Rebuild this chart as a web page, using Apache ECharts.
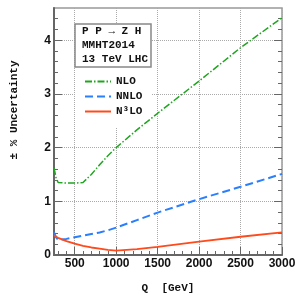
<!DOCTYPE html>
<html><head><meta charset="utf-8">
<script src="https://cdn.jsdelivr.net/npm/echarts@6/dist/echarts.min.js"></script>
<style>html,body{margin:0;padding:0;background:#fff}#c{width:300px;height:300px}</style>
</head><body><div id="c"></div>
<script>
const qValues = [250, 275, 300, 400, 500, 600, 700, 800, 900, 1000, 1250, 1500, 2000, 2500, 3000];
const nloValues = [1.62, 1.44, 1.35, 1.34, 1.34, 1.35, 1.50, 1.68, 1.85, 2.00, 2.33, 2.64, 3.24, 3.86, 4.42];
const nnloValues = [0.42, 0.33, 0.28, 0.30, 0.33, 0.36, 0.39, 0.42, 0.46, 0.51, 0.65, 0.79, 1.04, 1.27, 1.51];
const n3loValues = [0.37, 0.34, 0.32, 0.26, 0.21, 0.17, 0.14, 0.12, 0.095, 0.08, 0.11, 0.15, 0.25, 0.34, 0.42];
const seriesNames = ['NLO', 'NNLO', 'N³LO'];
const xMajorTicks = [500, 1000, 1500, 2000, 2500, 3000];
const xMinorTicks = [300, 400, 600, 700, 800, 900, 1100, 1200, 1300, 1400, 1600, 1700, 1800, 1900, 2100, 2200, 2300, 2400, 2600, 2700, 2800, 2900];
const yMajorTicks = [0, 1, 2, 3, 4];
const yMinorTicks = [0.2, 0.4, 0.6, 0.8, 1.2, 1.4, 1.6, 1.8, 2.2, 2.4, 2.6, 2.8, 3.2, 3.4, 3.6, 3.8, 4.2, 4.4];
const boxLines = ['P P \u2192 Z H', 'MMHT2014', '13 TeV LHC'];

const pairs = vals => qValues.map((q, i) => [q, vals[i]]);
const mono = '"Liberation Mono", "DejaVu Sans Mono", monospace';
const sans = '"Liberation Sans", Arial, sans-serif';
const axisCol = '#666';

const chart = echarts.init(document.getElementById('c'), null, {renderer: 'canvas'});
const xBase = {type: 'value', min: 250, max: 3000, gridIndex: 0};
const yBase = {type: 'value', min: 0, max: 4.6, gridIndex: 0};
chart.setOption({
  animation: false,
  grid: {left: 54, right: 18, top: 8, bottom: 45, show: true, borderColor: '#999', borderWidth: 1.5, backgroundColor: 'transparent'},
  xAxis: [
    Object.assign({}, xBase, {
      position: 'bottom',
      name: 'Q  [GeV]', nameLocation: 'middle', nameGap: 28,
      nameTextStyle: {fontFamily: mono, fontWeight: 'bold', fontSize: 11, color: '#111'},
      axisLine: {show: true, onZero: false, lineStyle: {color: axisCol, width: 2}},
      axisTick: {show: true, inside: true, length: 8, customValues: xMajorTicks, lineStyle: {color: axisCol, width: 1}},
      axisLabel: {customValues: xMajorTicks, margin: 3, fontFamily: sans, fontWeight: 'bold', fontSize: 12, color: '#111', formatter: v => String(v)},
      splitLine: {show: true, lineStyle: {color: '#aaa', type: [1, 1], width: 1}},
      minorTick: {show: false}
    }),
    Object.assign({}, xBase, {
      position: 'bottom',
      axisLine: {show: false, onZero: false},
      axisTick: {show: true, inside: true, length: 4, customValues: xMinorTicks, lineStyle: {color: axisCol, width: 1}},
      axisLabel: {show: false},
      splitLine: {show: false}
    })
  ],
  yAxis: [
    Object.assign({}, yBase, {
      position: 'left', interval: 1,
      axisLine: {show: true, onZero: false, lineStyle: {color: axisCol, width: 2}},
      axisTick: {show: true, inside: true, length: 8, customValues: yMajorTicks, lineStyle: {color: axisCol, width: 1}},
      axisLabel: {customValues: yMajorTicks, margin: 3, fontFamily: sans, fontWeight: 'bold', fontSize: 12, color: '#111', formatter: v => String(v)},
      splitLine: {show: true, lineStyle: {color: '#aaa', type: [1, 1], width: 1}}
    }),
    Object.assign({}, yBase, {
      position: 'left',
      axisLine: {show: false, onZero: false},
      axisTick: {show: true, inside: true, length: 4, customValues: yMinorTicks, lineStyle: {color: axisCol, width: 1}},
      axisLabel: {show: false}, splitLine: {show: false}
    }),
    Object.assign({}, yBase, {
      position: 'right',
      axisLine: {show: false, onZero: false},
      axisTick: {show: true, inside: true, length: 8, customValues: yMajorTicks, lineStyle: {color: axisCol, width: 1}},
      axisLabel: {show: false}, splitLine: {show: false}
    }),
    Object.assign({}, yBase, {
      position: 'right',
      axisLine: {show: false, onZero: false},
      axisTick: {show: true, inside: true, length: 4, customValues: yMinorTicks, lineStyle: {color: axisCol, width: 1}},
      axisLabel: {show: false}, splitLine: {show: false}
    })
  ],
  legend: {
    orient: 'vertical', left: 79, top: 71, itemWidth: 26, itemHeight: 10, itemGap: 4,
    itemStyle: {opacity: 0},
    textStyle: {fontFamily: mono, fontWeight: 'bold', fontSize: 11, color: '#111'},
    data: seriesNames
  },
  graphic: [
    {type: 'rect', z: 1, shape: {x: 75, y: 67, width: 76, height: 60}, style: {fill: '#fff'}},
    {type: 'rect', z: 5, shape: {x: 75, y: 24, width: 76, height: 43}, style: {fill: '#fff', stroke: '#888', lineWidth: 1.5}},
    ...boxLines.map((t, i) => ({type: 'text', z: 6, x: 82, y: [31, 45, 59][i],
      style: {text: t, fontFamily: mono, fontWeight: 'bold', fontSize: 11, fill: '#111', verticalAlign: 'middle', align: 'left'}})),
    {type: 'text', z: 6, x: 14, y: 110, rotation: Math.PI / 2,
      style: {text: '\u00b1 % Uncertainty', fontFamily: mono, fontWeight: 'bold', fontSize: 11, fill: '#111', align: 'center', verticalAlign: 'middle'}}
  ],
  series: [
    {name: seriesNames[0], type: 'line', symbol: 'none', z: 3, data: pairs(nloValues),
      itemStyle: {color: '#1fa51f'}, lineStyle: {color: '#1fa51f', width: 1.5, type: [7, 2, 1.5, 2]}},
    {name: seriesNames[1], type: 'line', symbol: 'none', z: 3, data: pairs(nnloValues),
      itemStyle: {color: '#2a7fff'}, lineStyle: {color: '#2a7fff', width: 2, type: [8, 4]}},
    {name: seriesNames[2], type: 'line', symbol: 'none', z: 3, data: pairs(n3loValues),
      itemStyle: {color: '#ff4a1c'}, lineStyle: {color: '#ff4a1c', width: 1.8, type: 'solid'}}
  ]
});
</script></body></html>
